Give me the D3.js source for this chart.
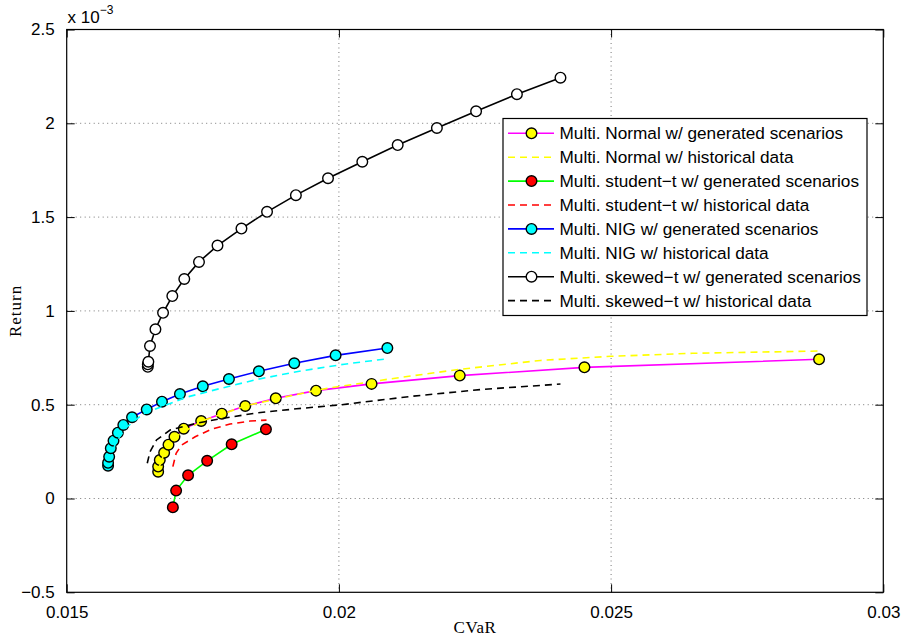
<!DOCTYPE html>
<html>
<head>
<meta charset="utf-8">
<script src="https://cdnjs.cloudflare.com/ajax/libs/d3/7.8.5/d3.min.js"></script>
<style>
  body { margin: 0; background: #fff; }
</style>
</head>
<body>
<div id="chart"></div>
<script>
// values: [CVaR, Return x 1e-3]
var normalGen = [[0.01668,0.143],[0.01668,0.170],[0.01671,0.205],[0.01679,0.244],[0.01687,0.287],
  [0.01698,0.329],[0.01715,0.372],[0.01747,0.413],[0.01785,0.452],[0.01828,0.493],[0.01884,0.534],
  [0.01958,0.575],[0.02060,0.611],[0.02222,0.655],[0.02451,0.699],[0.02882,0.742]];
var normalHist = [[0.01668,0.15],[0.01680,0.25],[0.01700,0.33],[0.01750,0.415],[0.01830,0.495],
  [0.01960,0.578],[0.02000,0.597],[0.02100,0.640],[0.02220,0.688],[0.02370,0.736],[0.02500,0.758],
  [0.02650,0.774],[0.02880,0.786]];
var tGen = [[0.01695,-0.047],[0.01701,0.042],[0.01723,0.124],[0.01758,0.201],[0.01803,0.289],[0.01866,0.369]];
var tHist = [[0.01695,0.170],[0.01701,0.241],[0.01711,0.285],[0.01736,0.329],[0.01766,0.369],
  [0.01800,0.397],[0.01837,0.413],[0.01867,0.418]];
var nigGen = [[0.01576,0.175],[0.01576,0.190],[0.01578,0.223],[0.01581,0.268],[0.01586,0.308],[0.01594,0.351],
  [0.01604,0.392],[0.01620,0.433],[0.01647,0.475],[0.01675,0.516],[0.01708,0.557],[0.01750,0.598],
  [0.01798,0.637],[0.01853,0.678],[0.01918,0.721],[0.01994,0.763],[0.02089,0.802]];
var nigHist = [[0.01580,0.20],[0.01590,0.30],[0.01610,0.38],[0.01640,0.45],[0.01675,0.49],[0.01720,0.54],
  [0.01780,0.585],[0.01850,0.635],[0.01930,0.680],[0.02010,0.716],[0.02089,0.745]];
var skewGen = [[0.01649,0.702],[0.01649,0.715],[0.01650,0.729],[0.01653,0.813],[0.01663,0.902],[0.01677,0.990],
  [0.01694,1.079],[0.01716,1.170],[0.01743,1.261],[0.01777,1.348],[0.01821,1.439],[0.01868,1.528],
  [0.01921,1.617],[0.01980,1.707],[0.02043,1.795],[0.02108,1.884],[0.02180,1.975],[0.02252,2.064],
  [0.02327,2.155],[0.02407,2.243]];
var skewHist = [[0.01648,0.188],[0.01653,0.249],[0.01665,0.312],[0.01690,0.365],[0.01740,0.402],
  [0.01788,0.428],[0.01849,0.456],[0.01922,0.478],[0.02005,0.500],[0.02068,0.522],[0.02134,0.545],
  [0.02265,0.582],[0.02407,0.610]];

var xTicks = [0.015, 0.02, 0.025, 0.03];
var yTicks = [-0.5, 0, 0.5, 1, 1.5, 2, 2.5];
var xTickLabels = ["0.015", "0.02", "0.025", "0.03"];
var yTickLabels = ["\u22120.5", "0", "0.5", "1", "1.5", "2", "2.5"];

var series = [
  {name: "Multi. Normal w/ generated scenarios", data: normalGen, line: "#ff00ff", marker: "#ffff00"},
  {name: "Multi. Normal w/ historical data", data: normalHist, line: "#ffff00", dash: true},
  {name: "Multi. student\u2212t w/ generated scenarios", data: tGen, line: "#00ff00", marker: "#ff0000"},
  {name: "Multi. student\u2212t w/ historical data", data: tHist, line: "#ff0000", dash: true},
  {name: "Multi. NIG w/ generated scenarios", data: nigGen, line: "#0000ff", marker: "#00ffff"},
  {name: "Multi. NIG w/ historical data", data: nigHist, line: "#00ffff", dash: true},
  {name: "Multi. skewed\u2212t w/ generated scenarios", data: skewGen, line: "#000000", marker: "#ffffff"},
  {name: "Multi. skewed\u2212t w/ historical data", data: skewHist, line: "#000000", dash: true}
];

var sans = "'Liberation Sans', Arial, Helvetica, sans-serif";
var serif = "'Liberation Serif', 'DejaVu Serif', serif";

var width = 902, height = 636;
var margin = {top: 29.5, right: 18.7, bottom: 43.7, left: 66.7};
var w = width - margin.left - margin.right;
var h = height - margin.top - margin.bottom;

var svg = d3.select("#chart").append("svg")
  .attr("width", width)
  .attr("height", height)
  .style("font-family", sans);

var g = svg.append("g")
  .attr("transform", "translate(" + margin.left + "," + margin.top + ")");

var x = d3.scaleLinear().domain([0.015, 0.03]).range([0, w]);
var y = d3.scaleLinear().domain([-0.5, 2.5]).range([h, 0]);

// dotted grid
g.append("g").selectAll("line")
  .data(xTicks.slice(1, -1))
  .enter().append("line")
  .attr("x1", function(d) { return x(d); })
  .attr("x2", function(d) { return x(d); })
  .attr("y1", 0).attr("y2", h)
  .attr("stroke", "#555").attr("stroke-width", 0.8).attr("stroke-dasharray", "1,3.5");
g.append("g").selectAll("line")
  .data(yTicks.slice(1, -1))
  .enter().append("line")
  .attr("y1", function(d) { return y(d); })
  .attr("y2", function(d) { return y(d); })
  .attr("x1", 0).attr("x2", w)
  .attr("stroke", "#555").attr("stroke-width", 0.8).attr("stroke-dasharray", "1,3.5");

// axes, ticks pointing inward on all four sides
var tickLen = 8;
var xAxis = d3.axisBottom(x).tickValues(xTicks)
  .tickFormat(function(d, i) { return xTickLabels[i]; })
  .tickSizeInner(-tickLen).tickSizeOuter(0).tickPadding(tickLen + 6);
var yAxis = d3.axisLeft(y).tickValues(yTicks)
  .tickFormat(function(d, i) { return yTickLabels[i]; })
  .tickSizeInner(-tickLen).tickSizeOuter(0).tickPadding(tickLen + 4);

var gx = g.append("g").attr("transform", "translate(0," + h + ")").call(xAxis);
var gy = g.append("g").call(yAxis);
var gxt = g.append("g").call(d3.axisTop(x).tickValues(xTicks).tickFormat("").tickSizeInner(-tickLen).tickSizeOuter(0));
var gyr = g.append("g").attr("transform", "translate(" + w + ",0)")
  .call(d3.axisRight(y).tickValues(yTicks).tickFormat("").tickSizeInner(-tickLen).tickSizeOuter(0));

[gx, gy, gxt, gyr].forEach(function(a) {
  a.select(".domain").remove();
  a.selectAll("line").attr("stroke", "#000").attr("stroke-width", 1);
  a.selectAll("text").attr("font-size", 17).attr("fill", "#000")
    .attr("font-family", sans);
});

g.append("rect")
  .attr("width", w).attr("height", h)
  .attr("fill", "none").attr("stroke", "#000").attr("stroke-width", 1.2);

// series
var line = d3.line()
  .x(function(d) { return x(d[0]); })
  .y(function(d) { return y(d[1]); });

series.forEach(function(s) {
  g.append("path")
    .datum(s.data)
    .attr("d", line)
    .attr("fill", "none")
    .attr("stroke", s.line)
    .attr("stroke-width", 1.6)
    .attr("stroke-dasharray", s.dash ? "7,5" : null);
  if (s.marker) {
    g.append("g").selectAll("circle")
      .data(s.data)
      .enter().append("circle")
      .attr("cx", function(d) { return x(d[0]); })
      .attr("cy", function(d) { return y(d[1]); })
      .attr("r", 5.3)
      .attr("fill", s.marker)
      .attr("stroke", "#000")
      .attr("stroke-width", 1.4);
  }
});

// axis labels
svg.append("text")
  .attr("x", margin.left + w / 2)
  .attr("y", 633)
  .attr("text-anchor", "middle")
  .style("font-family", serif)
  .attr("font-size", 17)
  .attr("letter-spacing", 0.6)
  .text("CVaR");

svg.append("text")
  .attr("transform", "translate(21," + (margin.top + h / 2) + ") rotate(-90)")
  .attr("text-anchor", "middle")
  .style("font-family", serif)
  .attr("font-size", 17)
  .attr("letter-spacing", 1)
  .text("Return");

// exponent label
var expo = svg.append("text")
  .attr("x", 67.5).attr("y", 22.5)
  .attr("font-size", 17);
expo.append("tspan").text("x 10");
expo.append("tspan").attr("dy", -9).attr("font-size", 12).text("\u22123");

// legend
var legend = svg.append("g").attr("transform", "translate(503,118.5)");
legend.append("rect")
  .attr("width", 364).attr("height", 197)
  .attr("fill", "#fff").attr("stroke", "#000").attr("stroke-width", 1.2);

var rows = legend.selectAll(".row")
  .data(series)
  .enter().append("g")
  .attr("class", "row")
  .attr("transform", function(d, i) { return "translate(0," + (14.8 + i * 23.9) + ")"; });

rows.append("line")
  .attr("x1", 5).attr("x2", 51)
  .attr("stroke", function(d) { return d.line; })
  .attr("stroke-width", 1.6)
  .attr("stroke-dasharray", function(d) { return d.dash ? "7,5" : null; });

rows.filter(function(d) { return d.marker; })
  .append("circle")
  .attr("cx", 28.5)
  .attr("r", 5.3)
  .attr("fill", function(d) { return d.marker; })
  .attr("stroke", "#000")
  .attr("stroke-width", 1.4);

rows.append("text")
  .attr("x", 56.5)
  .attr("dy", "0.35em")
  .attr("font-size", 17.2)
  .text(function(d) { return d.name; });
</script>
</body>
</html>
